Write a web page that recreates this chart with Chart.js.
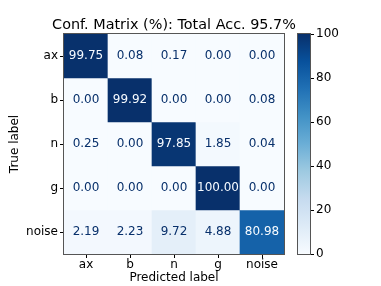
<!DOCTYPE html>
<html lang="en">
<head>
<meta charset="UTF-8">
<title>Confusion Matrix</title>
<script src="https://cdn.jsdelivr.net/npm/chart.js"></script>
<style>
    body { margin: 0; background: #fff; }
    .wrap { position: relative; width: 381px; height: 286px; }
    canvas { position: absolute; top: 0; }
    #matrix { left: 0; }
    #colorbar { left: 290px; }
</style>
</head>
<body>
<div class="wrap">
    <canvas id="matrix" width="381" height="286"></canvas>
    <canvas id="colorbar" width="91" height="286"></canvas>
</div>
<script>
const classLabels = ['ax', 'b', 'n', 'g', 'noise'];
const rowAx    = [99.75, 0.08, 0.17, 0.00, 0.00];
const rowB     = [0.00, 99.92, 0.00, 0.00, 0.08];
const rowN     = [0.25, 0.00, 97.85, 1.85, 0.04];
const rowG     = [0.00, 0.00, 0.00, 100.00, 0.00];
const rowNoise = [2.19, 2.23, 9.72, 4.88, 80.98];
const matrixRows = [rowAx, rowB, rowN, rowG, rowNoise];
const colorbarTicks = [0, 20, 40, 60, 80, 100];
const titleText = 'Conf. Matrix (%): Total Acc. 95.7%';

// matplotlib "Blues"
const bluesStops = [
    [247, 251, 255], [222, 235, 247], [198, 219, 239], [158, 202, 225], [107, 174, 214],
    [66, 146, 198], [33, 113, 181], [8, 81, 156], [8, 48, 107]
];
function blues(t) {
    t = Math.max(0, Math.min(1, t));
    const p = t * (bluesStops.length - 1);
    const i = Math.min(Math.floor(p), bluesStops.length - 2);
    const f = p - i;
    const a = bluesStops[i], b = bluesStops[i + 1];
    const c = a.map((v, k) => Math.round(v + (b[k] - v) * f));
    return `rgb(${c[0]},${c[1]},${c[2]})`;
}

const FONT = "'DejaVu Sans', sans-serif";
Chart.defaults.font.family = FONT;
Chart.defaults.color = '#000';

const frame = {
    id: 'frame',
    afterDraw(chart) {
        const a = chart.chartArea, ctx = chart.ctx;
        ctx.save();
        ctx.strokeStyle = '#555';
        ctx.lineWidth = 1;
        ctx.strokeRect(a.left - 0.5, a.top - 0.5, a.right - a.left + 1, a.bottom - a.top + 1);
        ctx.restore();
    }
};

const cellText = {
    id: 'cellText',
    afterDatasetsDraw(chart) {
        const ctx = chart.ctx;
        ctx.save();
        ctx.font = '12px ' + FONT;
        ctx.textAlign = 'center';
        ctx.textBaseline = 'middle';
        chart.data.datasets.forEach((ds, i) => {
            chart.getDatasetMeta(i).data.forEach((el, j) => {
                const v = ds.values[j];
                ctx.fillStyle = v >= 50 ? 'rgb(247,251,255)' : 'rgb(8,48,107)';
                ctx.fillText(v.toFixed(2), el.x, (el.y + el.base) / 2);
            });
        });
        ctx.restore();
    }
};

const axesTitle = {
    id: 'axesTitle',
    afterDraw(chart) {
        const a = chart.chartArea, ctx = chart.ctx;
        ctx.save();
        ctx.font = '14.4px ' + FONT;
        ctx.fillStyle = '#000';
        ctx.textAlign = 'center';
        ctx.textBaseline = 'middle';
        ctx.fillText(titleText, (a.left + a.right) / 2, 25);
        ctx.restore();
    }
};

new Chart(document.getElementById('matrix'), {
    type: 'bar',
    data: {
        labels: classLabels,
        datasets: matrixRows.map((row, r) => ({
            label: classLabels[r],
            data: row.map(() => [r - 0.5, r + 0.5]),
            values: row,
            backgroundColor: row.map(v => blues(v / 100)),
            borderWidth: 0,
            grouped: false,
            barPercentage: 1,
            categoryPercentage: 1
        }))
    },
    options: {
        responsive: false,
        animation: false,
        devicePixelRatio: 1,
        layout: { padding: { top: 34, right: 97, left: 0, bottom: 0 } },
        plugins: { legend: { display: false }, tooltip: { enabled: false } },
        scales: {
            x: {
                grid: { display: true, drawOnChartArea: false, offset: false, tickLength: 4, color: '#000' },
                border: { display: false },
                ticks: { font: { size: 12 }, padding: 0, maxRotation: 0 },
                title: { display: true, text: 'Predicted label', font: { size: 12 }, padding: { top: 0, bottom: 1 } },
                afterFit(s) { s.height = 32; }
            },
            y: {
                type: 'linear',
                min: -0.5,
                max: 4.5,
                reverse: true,
                afterBuildTicks(s) { s.ticks = classLabels.map((_, i) => ({ value: i })); },
                grid: { display: true, drawOnChartArea: false, tickLength: 4, color: '#000' },
                border: { display: false },
                ticks: { font: { size: 12 }, padding: 2, callback: v => classLabels[v] },
                title: { display: true, text: 'True label', font: { size: 12 }, padding: { top: 8, bottom: 0 } },
                afterFit(s) { s.width = 64; }
            }
        }
    },
    plugins: [cellText, frame, axesTitle]
});

new Chart(document.getElementById('colorbar'), {
    type: 'bar',
    data: {
        labels: [''],
        datasets: [{
            data: [[colorbarTicks[0], colorbarTicks[colorbarTicks.length - 1]]],
            backgroundColor(c) {
                const a = c.chart.chartArea;
                if (!a) return null;
                const g = c.chart.ctx.createLinearGradient(0, a.bottom, 0, a.top);
                bluesStops.forEach((s, i) => g.addColorStop(i / (bluesStops.length - 1), `rgb(${s[0]},${s[1]},${s[2]})`));
                return g;
            },
            borderWidth: 0,
            barPercentage: 1,
            categoryPercentage: 1
        }]
    },
    options: {
        responsive: false,
        animation: false,
        devicePixelRatio: 1,
        layout: { padding: { top: 34, bottom: 32, left: 8, right: 0 } },
        plugins: { legend: { display: false }, tooltip: { enabled: false } },
        scales: {
            x: { display: false },
            y: {
                position: 'right',
                min: 0,
                max: 100,
                afterBuildTicks(s) { s.ticks = colorbarTicks.map(v => ({ value: v })); },
                grid: { display: true, drawOnChartArea: false, tickLength: 4, color: '#000' },
                border: { display: false },
                ticks: { font: { size: 12 }, padding: 2 },
                afterFit(s) { s.width = 71; }
            }
        }
    },
    plugins: [frame]
});
</script>
</body>
</html>
